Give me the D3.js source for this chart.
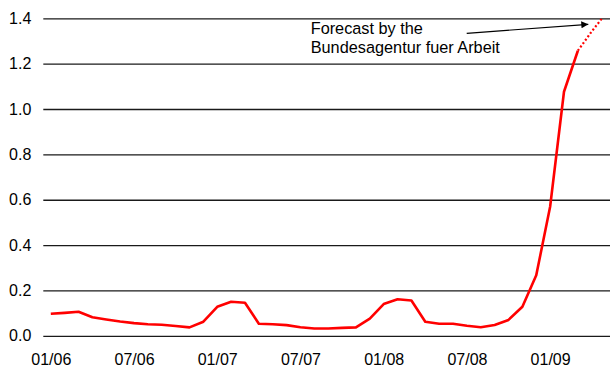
<!DOCTYPE html>
<html>
<head>
<meta charset="utf-8">
<script src="https://cdn.jsdelivr.net/npm/d3@7"></script>
<style>
  body { margin: 0; background: #fff; }
  text { font-family: "Liberation Sans", Arial, sans-serif; fill: #000; }
</style>
</head>
<body>
<div id="chart"></div>
<script>
// months from 01/06 to 05/09
const months = [
  "01/06","02/06","03/06","04/06","05/06","06/06","07/06","08/06","09/06","10/06","11/06","12/06",
  "01/07","02/07","03/07","04/07","05/07","06/07","07/07","08/07","09/07","10/07","11/07","12/07",
  "01/08","02/08","03/08","04/08","05/08","06/08","07/08","08/08","09/08","10/08","11/08","12/08",
  "01/09","02/09","03/09","04/09","05/09"
];

// observed values, 01/06 .. 03/09
const actual = [
  0.097, 0.101, 0.106, 0.082, 0.072, 0.063, 0.056, 0.051, 0.049, 0.043, 0.037, 0.062,
  0.128, 0.150, 0.146, 0.053, 0.051, 0.047, 0.038, 0.032, 0.032, 0.035, 0.037, 0.076,
  0.140, 0.161, 0.156, 0.062, 0.053, 0.053, 0.044, 0.038, 0.048, 0.070, 0.128, 0.267,
  0.569, 1.076, 1.257
];

// forecast, 03/09 .. 05/09
const forecastMonths = ["03/09","04/09","05/09"];
const forecast = [1.257, 1.342, 1.42];

const xTicks = ["01/06","07/06","01/07","07/07","01/08","07/08","01/09"];
const yTicks = [0, 0.2, 0.4, 0.6, 0.8, 1.0, 1.2, 1.4];

const W = 610, H = 367;
const plotL = 43.3, plotR = 610, plotT = 18.3, plotB = 335.8;

const svg = d3.select("#chart").append("svg")
  .attr("width", W)
  .attr("height", H);

const x = d3.scalePoint()
  .domain(months)
  .range([50.8, 605.6]);

const y = d3.scaleLinear()
  .domain([0, 1.4])
  .range([plotB, plotT]);

// gridlines + y labels
const yAxis = svg.append("g")
  .attr("transform", `translate(${plotL},0)`)
  .call(d3.axisLeft(y).tickValues(yTicks).tickFormat(d3.format(".1f"))
    .tickSize(-(plotR - plotL)).tickPadding(12));
yAxis.select(".domain").remove();
yAxis.selectAll("line").attr("stroke", "#1a1a1a").attr("stroke-width", 1.3);
yAxis.selectAll("text").style("font-size", "16px");

// x labels
const xAxis = svg.append("g")
  .attr("transform", `translate(0,${plotB})`)
  .call(d3.axisBottom(x).tickValues(xTicks).tickSize(0).tickPadding(18));
xAxis.select(".domain").remove();
xAxis.selectAll("text").style("font-size", "16px");

svg.append("clipPath").attr("id", "plot")
  .append("rect").attr("x", plotL).attr("y", plotT).attr("width", plotR - plotL).attr("height", plotB - plotT);

const line = d3.line()
  .x(d => x(d[0]))
  .y(d => y(d[1]));

svg.append("path")
  .datum(months.slice(0, actual.length).map((m, i) => [m, actual[i]]))
  .attr("fill", "none")
  .attr("stroke", "#ff0000")
  .attr("stroke-width", 2.6)
  .attr("stroke-linejoin", "round")
  .attr("d", line);

svg.append("path")
  .datum(forecastMonths.map((m, i) => [m, forecast[i]]))
  .attr("clip-path", "url(#plot)")
  .attr("fill", "none")
  .attr("stroke", "#ff0000")
  .attr("stroke-width", 2.2)
  .attr("stroke-dasharray", "2,2.2")
  .attr("d", line);

// annotation
const note = svg.append("text")
  .attr("x", 310.7)
  .attr("y", 34.3)
  .style("font-size", "16.3px");
note.append("tspan").attr("x", 310.7).text("Forecast by the");
note.append("tspan").attr("x", 310.7).attr("dy", 18.4).text("Bundesagentur fuer Arbeit");

svg.append("defs").append("marker")
  .attr("id", "arrow")
  .attr("viewBox", "0 0 10 10")
  .attr("refX", 10).attr("refY", 5)
  .attr("markerWidth", 8).attr("markerHeight", 7)
  .attr("markerUnits", "userSpaceOnUse")
  .attr("orient", "auto")
  .append("path").attr("d", "M0,0L10,5L0,10Z").attr("fill", "#000");

svg.append("line")
  .attr("x1", 466.7).attr("y1", 33.3)
  .attr("x2", 588.3).attr("y2", 24.3)
  .attr("stroke", "#000")
  .attr("stroke-width", 1.2)
  .attr("marker-end", "url(#arrow)");
</script>
</body>
</html>
